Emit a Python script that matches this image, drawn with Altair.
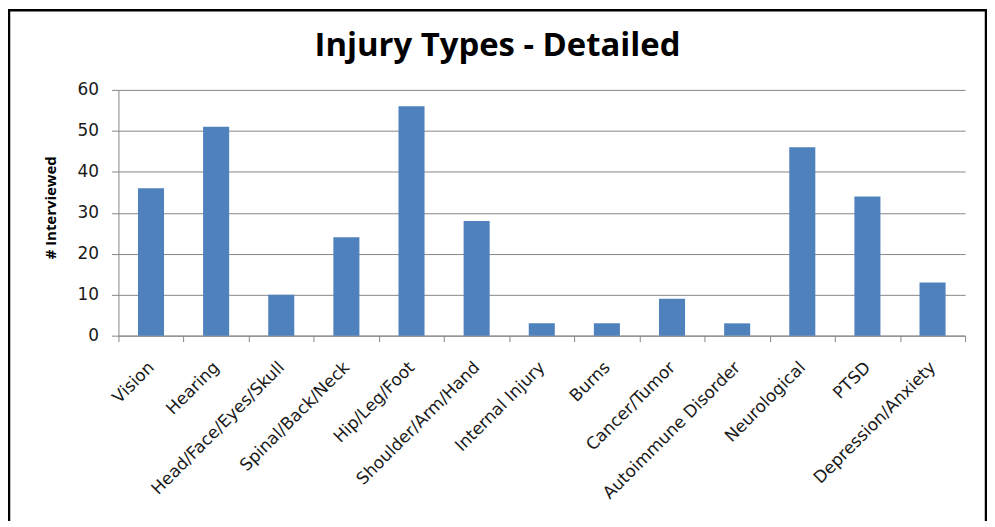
import altair as alt
import pandas as pd

# ---- data ----
categories = ["Vision", "Hearing", "Head/Face/Eyes/Skull", "Spinal/Back/Neck",
              "Hip/Leg/Foot", "Shoulder/Arm/Hand", "Internal Injury", "Burns",
              "Cancer/Tumor", "Autoimmune Disorder", "Neurological", "PTSD",
              "Depression/Anxiety"]
values = [36, 51, 10, 24, 56, 28, 3, 3, 9, 3, 46, 34, 13]
y_ticks = [0, 10, 20, 30, 40, 50, 60]
title_text = ["Injury Types - Detailed"]
y_title = "# Interviewed"

df = pd.DataFrame({"injury": categories, "count": values})
one = pd.DataFrame({"t": title_text})

W, H = 851, 247
PL, PT, PR, PB = 111, 81, 22, 185
LFONT = "DejaVu Sans"
TFONT = "Open Sans"

bars = alt.Chart(df).mark_bar(color="#4F81BD", width={"band": 0.4}).encode(
    x=alt.X("injury:N", sort=categories,
            scale=alt.Scale(paddingInner=0, paddingOuter=0),
            axis=alt.Axis(title=None, labelAngle=-45, tickBand="extent",
                          labelAlign="right", labelBaseline="middle",
                          labelFontSize=17, labelFont=LFONT, labelColor="#1a1a1a",
                          labelLimit=400,
                          tickSize=6, tickColor="#868686", domainColor="#868686",
                          labelPadding=23, labelOverlap=False, grid=False)),
    y=alt.Y("count:Q", scale=alt.Scale(domain=[0, 60], nice=False),
            axis=alt.Axis(values=y_ticks, title=y_title, titleFont=TFONT,
                          titleFontSize=15, titleFontWeight="bold", titleColor="#000",
                          titleX=-63, titleY=118, titleAlign="center",
                          titleBaseline="alphabetic", titleAngle=-90,
                          labelFontSize=17, labelFont=LFONT, labelColor="#1a1a1a",
                          tickSize=7, tickColor="#868686", domainColor="#868686",
                          labelPadding=13, grid=True, gridColor="#868686"))
)

border = alt.Chart(one).mark_rect(fillOpacity=0, stroke="#000", strokeWidth=2.5,
                                  clip=False).encode(
    x=alt.value(-PL + 1), x2=alt.value(W + PR - 1),
    y=alt.value(-PT + 1), y2=alt.value(H + PB + 20)
)

title = alt.Chart(one).mark_text(font=TFONT, fontSize=33, fontWeight="bold",
                                 color="#000", align="center",
                                 baseline="alphabetic").encode(
    text="t:N", x=alt.value(500 - 8 - PL), y=alt.value(55 - 8 - PT)
)

chart = alt.layer(border, bars, title).properties(
    width=W, height=H,
    autosize=alt.AutoSizeParams(type="none"),
    padding={"left": PL, "top": PT, "right": PR, "bottom": PB},
).configure_view(stroke=None)

chart.save("out.html", embed_options={"renderer": "svg", "actions": False})
